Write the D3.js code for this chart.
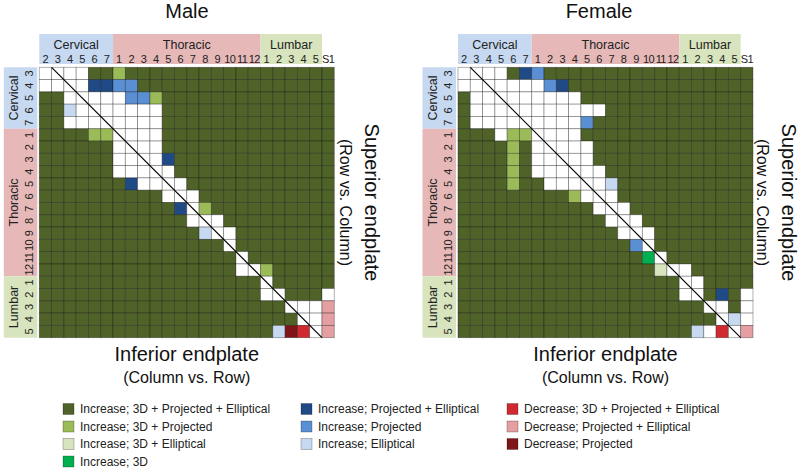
<!DOCTYPE html>
<html><head><meta charset="utf-8">
<script src="https://cdn.jsdelivr.net/npm/d3@7"></script>
<style>
html,body{margin:0;padding:0;background:#fff;}
svg{display:block;font-family:"Liberation Sans",Arial,Helvetica,sans-serif;}
</style></head>
<body>
<svg id="chart" width="800" height="471"></svg>
<script>
// ---------- data ----------
const colLabels = ["2","3","4","5","6","7","1","2","3","4","5","6","7","8","9","10","11","12","1","2","3","4","5","S1"];
const colGroups = [{name:"Cervical",from:0,to:5},{name:"Thoracic",from:6,to:17},{name:"Lumbar",from:18,to:22}];
const rowLabels = ["3","4","5","6","7","1","2","3","4","5","6","7","8","9","10","11","12","1","2","3","4","5"];
const rowGroups = [{name:"Cervical",from:0,to:4},{name:"Thoracic",from:5,to:16},{name:"Lumbar",from:17,to:21}];

// category codes per cell (row strings, one char per column)
const maleRows = [
"WWWWGGLGGGGGGGGGGGGGGGGG",
"WWWWDDPPGGGGGGGGGGGGGGGG",
"GGWWWWWPPLGGGGGGGGGGGGGG",
"GGQWWWWWWWGGGGGGGGGGGGGG",
"GGWWWWWWWWGGGGGGGGGGGGGG",
"GGGGLLWWWWGGGGGGGGGGGGGG",
"GGGGGGWWWWGGGGGGGGGGGGGG",
"GGGGGGWWWWDGGGGGGGGGGGGG",
"GGGGGGWWWWWGGGGGGGGGGGGG",
"GGGGGGGDWWWWGGGGGGGGGGGG",
"GGGGGGGGGGWWWGGGGGGGGGGG",
"GGGGGGGGGGGDWLGGGGGGGGGG",
"GGGGGGGGGGGGWWWGGGGGGGGG",
"GGGGGGGGGGGGGQWWGGGGGGGG",
"GGGGGGGGGGGGGGGWGGGGGGGG",
"GGGGGGGGGGGGGGGGWGGGGGGG",
"GGGGGGGGGGGGGGGGWWLGGGGG",
"GGGGGGGGGGGGGGGGGGWGGGGG",
"GGGGGGGGGGGGGGGGGGWWGGGW",
"GGGGGGGGGGGGGGGGGGGGWWWK",
"GGGGGGGGGGGGGGGGGGGGGWWK",
"GGGGGGGGGGGGGGGGGGGQMRWK"
];
const femaleRows = [
"WWWWGDPGGGGGGGGGGGGGGGGG",
"WWWWWWWPDGGGGGGGGGGGGGGG",
"GWWWWWWWWWGGGGGGGGGGGGGG",
"GWWWWWWWWWWWGGGGGGGGGGGG",
"GWWWWWWWWWPGGGGGGGGGGGGG",
"GGGWLLWWWWGGGGGGGGGGGGGG",
"GGGGLGWWWWWGGGGGGGGGGGGG",
"GGGGLGWWWWWGGGGGGGGGGGGG",
"GGGGLGWWWWWWGGGGGGGGGGGG",
"GGGGLGGWWWWWQGGGGGGGGGGG",
"GGGGGGGGGLWWWGGGGGGGGGGG",
"GGGGGGGGGGGWWWGGGGGGGGGG",
"GGGGGGGGGGGGWWWGGGGGGGGG",
"GGGGGGGGGGGGGWWWGGGGGGGG",
"GGGGGGGGGGGGGGPWGGGGGGGG",
"GGGGGGGGGGGGGGGBWGGGGGGG",
"GGGGGGGGGGGGGGGGEWWGGGGG",
"GGGGGGGGGGGGGGGGGGWWGGGG",
"GGGGGGGGGGGGGGGGGGWWGDGW",
"GGGGGGGGGGGGGGGGGGGGWWGW",
"GGGGGGGGGGGGGGGGGGGGGWQW",
"GGGGGGGGGGGGGGGGGGGQWRWK"
];
const catCodes  = ["G","L","E","B","D","P","Q","R","K","M","W"];
const catNames  = ["Increase; 3D + Projected + Elliptical","Increase; 3D + Projected","Increase; 3D + Elliptical","Increase; 3D",
                   "Increase; Projected + Elliptical","Increase; Projected","Increase; Elliptical",
                   "Decrease; 3D + Projected + Elliptical","Decrease; Projected + Elliptical","Decrease; Projected","No change"];
const catColors = ["#4f6228","#9bbb59","#d7e4bd","#00b050","#1f4a85","#5b8fd3","#c6d9f1","#d02a30","#e59ea1","#7e1518","#ffffff"];
const legendColumns = [["G","L","E","B"],["D","P","Q"],["R","K","M"]];
const groupColors = {Cervical:"#c6d9f1",Thoracic:"#e6b9b8",Lumbar:"#d7e4bd"};

// ---------- drawing ----------
const svg = d3.select("#chart");
const color = d3.scaleOrdinal().domain(catCodes).range(catColors);
const nameOf = d3.scaleOrdinal().domain(catCodes).range(catNames);
const colIdx = d3.range(colLabels.length), rowIdx = d3.range(rowLabels.length);
const cell = 12.29, gridY = 67.3;

function panel(gx, title, titleX, rows, rOff){
  const x = d3.scaleBand().domain(colIdx).range([gx, gx + cell*colIdx.length]);
  const y = d3.scaleBand().domain(rowIdx).range([gridY, gridY + cell*rowIdx.length]);
  const g = svg.append("g");
  const cx = gx + cell*colIdx.length/2, cy = gridY + cell*rowIdx.length/2;

  g.append("text").attr("x", titleX).attr("y", 18).attr("text-anchor","middle")
    .attr("font-size", 20).attr("fill","#111").text(title);

  // header bands
  g.selectAll("rect.cg").data(colGroups).join("rect")
    .attr("x", d => x(d.from)).attr("y", 34)
    .attr("width", d => x(d.to) + x.bandwidth() - x(d.from)).attr("height", 30)
    .attr("fill", d => groupColors[d.name]);
  g.selectAll("text.cg").data(colGroups).join("text")
    .attr("x", d => (x(d.from) + x(d.to) + x.bandwidth())/2).attr("y", 49)
    .attr("text-anchor","middle").attr("font-size", 12.5).attr("fill","#222").text(d => d.name);
  g.selectAll("text.cl").data(colIdx).join("text")
    .attr("x", i => x(i) + x.bandwidth()/2).attr("y", 62.5)
    .attr("text-anchor","middle").attr("font-size", 11).attr("fill","#222")
    .attr("letter-spacing", i => colLabels[i].length > 1 ? -0.6 : 0)
    .text(i => colLabels[i]);

  // row bands
  g.selectAll("rect.rg").data(rowGroups).join("rect")
    .attr("x", gx - 35.5).attr("y", d => y(d.from))
    .attr("width", 33.5).attr("height", d => y(d.to) + y.bandwidth() - y(d.from))
    .attr("fill", d => groupColors[d.name]);
  g.selectAll("text.rg").data(rowGroups).join("text")
    .attr("transform", d => `translate(${gx-21},${(y(d.from)+y(d.to)+y.bandwidth())/2}) rotate(-90)`)
    .attr("text-anchor","middle").attr("font-size", 12.5).attr("fill","#222").text(d => d.name);
  g.selectAll("text.rl").data(rowIdx).join("text")
    .attr("transform", i => `translate(${gx-6},${y(i)+y.bandwidth()/2}) rotate(-90)`)
    .attr("text-anchor","middle").attr("font-size", 11).attr("fill","#222")
    .attr("letter-spacing", i => rowLabels[i].length > 1 ? -0.6 : 0)
    .text(i => rowLabels[i]);

  // cells
  const cells = [];
  rows.forEach((s, r) => s.split("").forEach((c, k) => cells.push({r, k, c})));
  g.selectAll("rect.cell").data(cells).join("rect")
    .attr("x", d => x(d.k)).attr("y", d => y(d.r))
    .attr("width", x.bandwidth()).attr("height", y.bandwidth())
    .attr("fill", d => color(d.c))
    .attr("stroke", "rgba(0,0,0,0.38)").attr("stroke-width", 0.8)
    .append("title").text(d => nameOf(d.c));

  // diagonal (same vertebral level)
  g.append("line")
    .attr("x1", x(1)).attr("y1", y(0))
    .attr("x2", x(rowIdx.length+1)).attr("y2", y(rowIdx.length-1) + y.bandwidth())
    .attr("stroke","#000").attr("stroke-width",1.2);

  // bottom axis title
  g.append("text").attr("x", cx).attr("y", 361).attr("text-anchor","middle")
    .attr("font-size", 20).attr("fill","#111").text("Inferior endplate");
  g.append("text").attr("x", cx).attr("y", 383).attr("text-anchor","middle")
    .attr("font-size", 16).attr("fill","#111").text("(Column vs. Row)");
  // right axis title
  const rx = gx + cell*colIdx.length;
  g.append("text").attr("transform", `translate(${rx+rOff},${cy}) rotate(90)`).attr("text-anchor","middle")
    .attr("font-size", 20).attr("fill","#111").text("Superior endplate");
  g.append("text").attr("transform", `translate(${rx+rOff-25},${cy}) rotate(90)`).attr("text-anchor","middle")
    .attr("font-size", 16).attr("fill","#111").text("(Row vs. Column)");
}

panel(39.3, "Male", 187, maleRows, 31);
panel(458, "Female", 599, femaleRows, 29);

// legend
const legX = [63, 301, 507], legY0 = 409, legDy = 17.5;
legendColumns.forEach((codes, ci) => {
  const lg = svg.append("g");
  lg.selectAll("rect").data(codes).join("rect")
    .attr("x", legX[ci]).attr("y", (d,i) => legY0 + i*legDy - 5.5)
    .attr("width", 11).attr("height", 11)
    .attr("fill", d => color(d)).attr("stroke","rgba(0,0,0,0.35)").attr("stroke-width",0.7);
  lg.selectAll("text").data(codes).join("text")
    .attr("x", legX[ci] + 17).attr("y", (d,i) => legY0 + i*legDy + 4.3)
    .attr("font-size", 12).attr("fill","#222").text(d => nameOf(d));
});
</script>
</body></html>
